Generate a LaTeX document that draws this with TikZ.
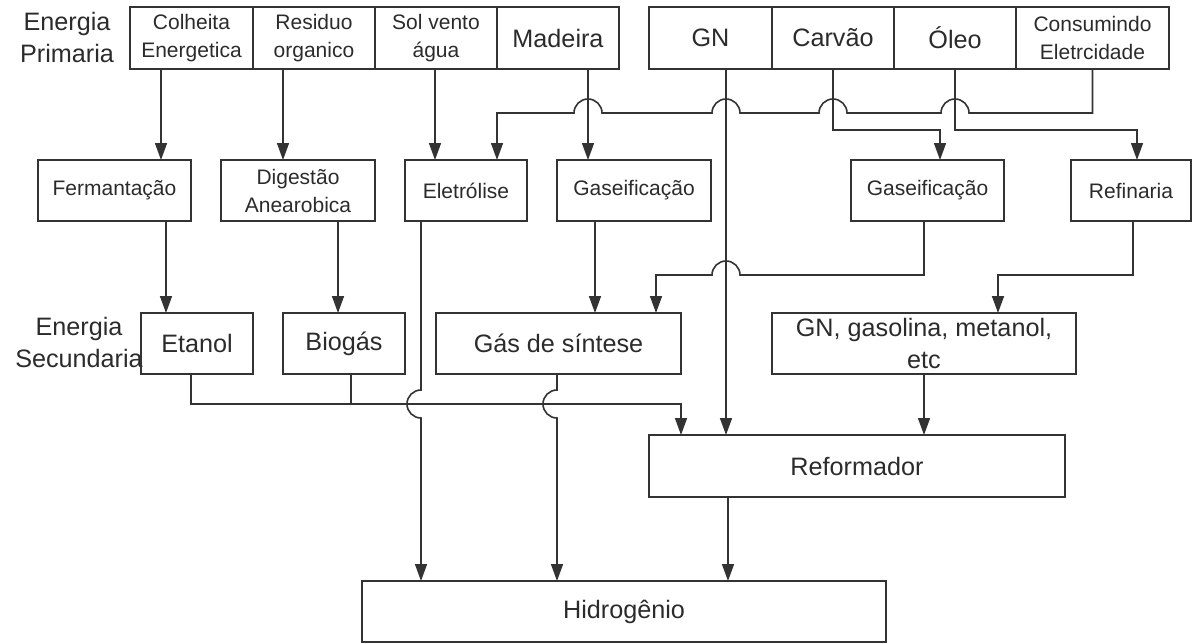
\documentclass[tikz,border=0pt]{standalone}
\usepackage{fontspec}
\setmainfont{Liberation Sans}
\usepackage{xcolor}
\definecolor{cLine}{HTML}{333333}
\definecolor{cText}{HTML}{2B2B2B}
\usepackage{tikz}
\usetikzlibrary{positioning,arrows.meta}
\newcommand\txtbig{\fontsize{12.6}{16}\selectfont}
\newcommand\txtsmall{\fontsize{10.5}{14}\selectfont}
\tikzset{
  node-box/.style={draw=cLine,line width=0.8pt,inner sep=0pt,outer sep=0pt,
    minimum width=61pt,minimum height=31pt,align=center,text=cText,font=\txtbig},
  node-small/.style={font=\txtsmall},
  node-label/.style={inner sep=0pt,align=center,text=cText,font=\txtbig},
  arrow/.style={-{Triangle[length=8.5pt,width=6pt]},line width=0.8pt,draw=cLine},
  line/.style={line width=0.8pt,draw=cLine},
}
\begin{document}
\begin{tikzpicture}[x=0.5pt,y=-0.5pt]
  \useasboundingbox (0,0) rectangle (1193,643);
  % energia primaria
  \node[node-label] (lprim) at (67,37) {Energia\\Primaria};
  \node[node-box,node-small,minimum width=61.5pt] (col) at (191.5,38) {Colheita\\Energetica};
  \node[node-box,node-small,right=0pt of col] (res) {Residuo\\organico};
  \node[node-box,node-small,right=0pt of res] (sol) {Sol vento\\água};
  \node[node-box,right=0pt of sol] (mad) {Madeira};
  \node[node-box,minimum width=61.5pt] (gn) at (710.5,38) {GN};
  \node[node-box,right=0pt of gn] (carv) {Carvão};
  \node[node-box,right=0pt of carv] (oleo) {Óleo};
  \node[node-box,node-small,minimum width=76.5pt,right=0pt of oleo] (cons) {Consumindo\\Eletrcidade};
  % processos
  \node[node-box,node-small,minimum width=76.5pt,minimum height=30.5pt] (fer) at (114.5,190.5) {Fermantação};
  \node[node-box,node-small,minimum width=77pt,minimum height=30.5pt] (dig) at (298,190.5) {Digestão\\Anearobica};
  \node[node-box,node-small,minimum height=30.5pt] (ele) at (466,190.5) {Eletrólise};
  \node[node-box,node-small,minimum width=77pt,minimum height=30.5pt] (gasL) at (634,190.5) {Gaseificação};
  \node[node-box,node-small,minimum width=76.5pt,minimum height=30.5pt] (gasR) at (927.5,190.5) {Gaseificação};
  \node[node-box,node-small,minimum width=60pt,minimum height=30.5pt] (ref) at (1131,190.5) {Refinaria};
  % energia secundaria
  \node[node-label] (lsec) at (79,342) {Energia\\Secundaria};
  \node[node-box,minimum width=56pt,minimum height=30.5pt] (eta) at (197,343.5) {Etanol};
  \node[node-box,minimum height=30.5pt] (bio) at (344,343.5) {Biogás};
  \node[node-box,minimum width=122.5pt,minimum height=30.5pt] (sin) at (558.5,343.5) {Gás de síntese};
  \node[node-box,minimum width=152pt,minimum height=30.5pt] (gnm) at (924,343.5) {GN, gasolina, metanol,\\etc};
  \node[node-box,minimum width=208pt] (refo) at (857,466) {Reformador};
  \node[node-box,minimum width=262pt,minimum height=30.5pt] (hid) at (624,611.5) {Hidrogênio};
  % primaria -> processos
  \draw[arrow] (col.south -| 161,0) -- (fer.north -| 161,0);
  \draw[arrow] (res.south -| 283,0) -- (dig.north -| 283,0);
  \draw[arrow] (sol.south -| 435,0) -- (ele.north -| 435,0);
  \draw[arrow] (mad.south -| 588,0) -- (gasL.north -| 588,0);
  \draw[arrow] (gn.south -| 726,0) -- (refo.north -| 726,0);
  \draw[arrow] (carv.south) -- (carv.south |- 0,130) -| (gasR.north -| 940,0);
  \draw[arrow] (oleo.south) -- (oleo.south |- 0,130) -| (ref.north -| 1137,0);
  \draw[arrow] (cons.south) -- (cons.south |- 0,113)
    -- (969,113) arc[start angle=0,end angle=180,radius=7pt]
    -- (847,113) arc[start angle=0,end angle=180,radius=7pt]
    -- (740,113) arc[start angle=0,end angle=180,radius=7pt]
    -- (602,113) arc[start angle=0,end angle=180,radius=7pt]
    -- (497,113) -- (ele.north -| 497,0);
  % processos -> secundaria
  \draw[arrow] (fer.south -| 166,0) -- (eta.north -| 166,0);
  \draw[arrow] (dig.south -| 338,0) -- (bio.north -| 338,0);
  \draw[arrow] (gasL.south -| 595,0) -- (sin.north -| 595,0);
  \draw[arrow] (gasR.south -| 924,0) -- (924,275)
    -- (740,275) arc[start angle=0,end angle=180,radius=7pt]
    -- (656,275) -- (sin.north -| 656,0);
  \draw[arrow] (ref.south -| 1133,0) -- (1133,275) -| (gnm.north -| 998,0);
  % secundaria -> reformador / hidrogenio
  \draw[arrow] (eta.south -| 191,0) -- (191,404) -| (refo.north -| 681,0);
  \draw[line] (bio.south -| 351,0) -- (351,404);
  \draw[arrow] (gnm.south -| 924,0) -- (refo.north -| 924,0);
  \draw[arrow] (ele.south -| 421,0) -- (421,390)
    arc[start angle=90,end angle=270,radius=7pt] -- (hid.north -| 421,0);
  \draw[arrow] (sin.south -| 557,0) -- (557,390)
    arc[start angle=90,end angle=270,radius=7pt] -- (hid.north -| 557,0);
  \draw[arrow] (refo.south -| 728,0) -- (hid.north -| 728,0);
\end{tikzpicture}
\end{document}
